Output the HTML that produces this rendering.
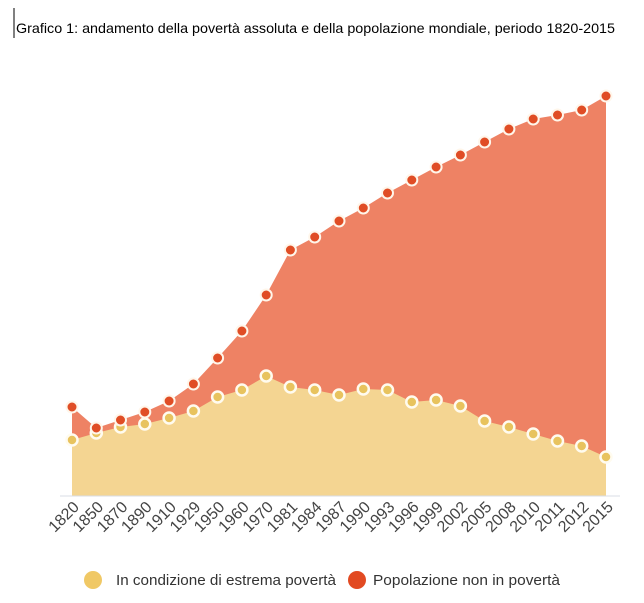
<!DOCTYPE html>
<html><head><meta charset="utf-8"><style>
body{margin:0;background:#fff;width:644px;height:603px;overflow:hidden}
svg{display:block}
</style></head><body>
<svg width="644" height="603" xmlns="http://www.w3.org/2000/svg" font-family="Liberation Sans, sans-serif">
<line x1="14" y1="8" x2="14" y2="38" stroke="#000" stroke-width="1"/>
<text x="16" y="33" font-family="Liberation Sans, sans-serif" font-size="14" fill="#000" textLength="599" lengthAdjust="spacingAndGlyphs">Grafico 1: andamento della povertà assoluta e della popolazione mondiale, periodo 1820-2015</text>
<polygon fill="#ee8264" points="72,407 96.3,428 120.5,420 144.8,412 169.1,401 193.4,384 217.6,358 241.9,331 266.2,295 290.4,250 314.7,237 339,221 363.3,208 387.5,193 411.8,180 436.1,167 460.4,155 484.6,142 508.9,129 533.2,119 557.5,115 581.7,110 606,96 606,496 72,496"/>
<polygon fill="#f4d592" points="72,440 96.3,433 120.5,427 144.8,424 169.1,418 193.4,411 217.6,397 241.9,390 266.2,376 290.4,387 314.7,390 339,395 363.3,389 387.5,390 411.8,402 436.1,400 460.4,406 484.6,421 508.9,427 533.2,434 557.5,441 581.7,446 606,457 606,496 72,496"/>
<line x1="60" y1="496" x2="620" y2="496" stroke="#d8dde6" stroke-width="1"/>
<g fill="#e8c35e" stroke="#fffbef" stroke-width="2.5">
<circle cx="72" cy="440" r="5.5"/><circle cx="96.3" cy="433" r="5.5"/><circle cx="120.5" cy="427" r="5.5"/><circle cx="144.8" cy="424" r="5.5"/><circle cx="169.1" cy="418" r="5.5"/><circle cx="193.4" cy="411" r="5.5"/><circle cx="217.6" cy="397" r="5.5"/><circle cx="241.9" cy="390" r="5.5"/><circle cx="266.2" cy="376" r="5.5"/><circle cx="290.4" cy="387" r="5.5"/><circle cx="314.7" cy="390" r="5.5"/><circle cx="339" cy="395" r="5.5"/><circle cx="363.3" cy="389" r="5.5"/><circle cx="387.5" cy="390" r="5.5"/><circle cx="411.8" cy="402" r="5.5"/><circle cx="436.1" cy="400" r="5.5"/><circle cx="460.4" cy="406" r="5.5"/><circle cx="484.6" cy="421" r="5.5"/><circle cx="508.9" cy="427" r="5.5"/><circle cx="533.2" cy="434" r="5.5"/><circle cx="557.5" cy="441" r="5.5"/><circle cx="581.7" cy="446" r="5.5"/><circle cx="606" cy="457" r="5.5"/>
</g>
<g fill="#e04d25" stroke="#fff6ea" stroke-width="2">
<circle cx="72" cy="407" r="5.5"/><circle cx="96.3" cy="428" r="5.5"/><circle cx="120.5" cy="420" r="5.5"/><circle cx="144.8" cy="412" r="5.5"/><circle cx="169.1" cy="401" r="5.5"/><circle cx="193.4" cy="384" r="5.5"/><circle cx="217.6" cy="358" r="5.5"/><circle cx="241.9" cy="331" r="5.5"/><circle cx="266.2" cy="295" r="5.5"/><circle cx="290.4" cy="250" r="5.5"/><circle cx="314.7" cy="237" r="5.5"/><circle cx="339" cy="221" r="5.5"/><circle cx="363.3" cy="208" r="5.5"/><circle cx="387.5" cy="193" r="5.5"/><circle cx="411.8" cy="180" r="5.5"/><circle cx="436.1" cy="167" r="5.5"/><circle cx="460.4" cy="155" r="5.5"/><circle cx="484.6" cy="142" r="5.5"/><circle cx="508.9" cy="129" r="5.5"/><circle cx="533.2" cy="119" r="5.5"/><circle cx="557.5" cy="115" r="5.5"/><circle cx="581.7" cy="110" r="5.5"/><circle cx="606" cy="96" r="5.5"/>
</g>
<g font-size="16" fill="#444" text-anchor="end">
<text transform="translate(80,508) rotate(-45)">1820</text>
<text transform="translate(104.3,508) rotate(-45)">1850</text>
<text transform="translate(128.5,508) rotate(-45)">1870</text>
<text transform="translate(152.8,508) rotate(-45)">1890</text>
<text transform="translate(177.1,508) rotate(-45)">1910</text>
<text transform="translate(201.4,508) rotate(-45)">1929</text>
<text transform="translate(225.6,508) rotate(-45)">1950</text>
<text transform="translate(249.9,508) rotate(-45)">1960</text>
<text transform="translate(274.2,508) rotate(-45)">1970</text>
<text transform="translate(298.4,508) rotate(-45)">1981</text>
<text transform="translate(322.7,508) rotate(-45)">1984</text>
<text transform="translate(347,508) rotate(-45)">1987</text>
<text transform="translate(371.3,508) rotate(-45)">1990</text>
<text transform="translate(395.5,508) rotate(-45)">1993</text>
<text transform="translate(419.8,508) rotate(-45)">1996</text>
<text transform="translate(444.1,508) rotate(-45)">1999</text>
<text transform="translate(468.4,508) rotate(-45)">2002</text>
<text transform="translate(492.6,508) rotate(-45)">2005</text>
<text transform="translate(516.9,508) rotate(-45)">2008</text>
<text transform="translate(541.2,508) rotate(-45)">2010</text>
<text transform="translate(565.5,508) rotate(-45)">2011</text>
<text transform="translate(589.7,508) rotate(-45)">2012</text>
<text transform="translate(614,508) rotate(-45)">2015</text>
</g>
<circle cx="93" cy="580" r="9" fill="#f0c865"/>
<text x="116" y="585" font-size="15" fill="#333" textLength="220" lengthAdjust="spacingAndGlyphs">In condizione di estrema povertà</text>
<circle cx="357" cy="580" r="9" fill="#e24a22"/>
<text x="373" y="585" font-size="15" fill="#333" textLength="187" lengthAdjust="spacingAndGlyphs">Popolazione non in povertà</text>
</svg>
</body></html>
